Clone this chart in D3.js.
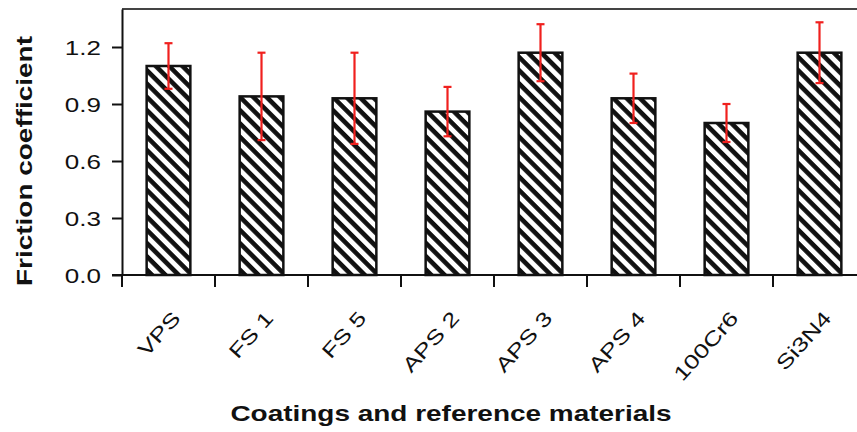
<!DOCTYPE html>
<html>
<head>
<meta charset="utf-8">
<script src="https://cdn.jsdelivr.net/npm/d3@7"></script>
<style>
  html, body { margin: 0; padding: 0; background: #fff; }
  svg { display: block; }
  text { font-family: "Liberation Sans", Arial, Helvetica, sans-serif; fill: #111; }
</style>
</head>
<body>
<svg id="chart" width="857" height="432"></svg>
<script>
// Friction coefficient of coatings and reference materials (mean ± spread)
const categories = ["VPS", "FS 1", "FS 5", "APS 2", "APS 3", "APS 4", "100Cr6", "Si3N4"];
const means      = [1.10, 0.94, 0.93, 0.86, 1.17, 0.93, 0.80, 1.17];
const errors     = [0.12, 0.23, 0.24, 0.13, 0.15, 0.13, 0.10, 0.16];
const yTicks     = [0.0, 0.3, 0.6, 0.9, 1.2];
const yLabel     = "Friction coefficient";
const xLabel     = "Coatings and reference materials";

const svg = d3.select("#chart");
const W = 857, H = 432;
const plot = { left: 122, right: 866, top: 9, bottom: 275 };
const widen = 1.3;   // the lettering is set wide

// stretch each text's glyphs along its baseline
function widenText(sel, factor) {
  sel.each(function () {
    const len = this.getComputedTextLength();
    d3.select(this)
      .attr("textLength", len * factor)
      .attr("lengthAdjust", "spacingAndGlyphs");
  });
}

const x = d3.scaleBand()
  .domain(categories)
  .range([plot.left, plot.right])
  .paddingInner(0.53)
  .paddingOuter(0.265);

const y = d3.scaleLinear()
  .domain([0, 1.4])
  .range([plot.bottom, plot.top]);

const data = categories.map((c, i) => ({ cat: c, mean: means[i], err: errors[i] }));

// diagonal hatch fill for the bars
const defs = svg.append("defs");
const pat = defs.append("pattern")
  .attr("id", "hatch")
  .attr("patternUnits", "userSpaceOnUse")
  .attr("width", 9.4)
  .attr("height", 9.4)
  .attr("patternTransform", "rotate(45)");
pat.append("rect").attr("width", 9.4).attr("height", 9.4).attr("fill", "#fff");
pat.append("rect").attr("x", 0).attr("y", 0).attr("width", 9.4).attr("height", 4.6).attr("fill", "#111");

// frame: top border
svg.append("line")
  .attr("x1", plot.left).attr("x2", plot.right)
  .attr("y1", y(1.4)).attr("y2", y(1.4))
  .attr("stroke", "#444").attr("stroke-width", 2);

// bars
svg.append("g").selectAll("rect")
  .data(data)
  .join("rect")
  .attr("x", d => x(d.cat))
  .attr("y", d => y(d.mean))
  .attr("width", x.bandwidth())
  .attr("height", d => y(0) - y(d.mean))
  .attr("fill", "url(#hatch)")
  .attr("stroke", "#111")
  .attr("stroke-width", 2.5);

// error bars
const capW = 4;
const eb = svg.append("g").attr("stroke", "#f0201e").attr("stroke-width", 2.2);
data.forEach(d => {
  const cx = x(d.cat) + x.bandwidth() / 2;
  eb.append("line").attr("x1", cx).attr("x2", cx).attr("y1", y(d.mean + d.err)).attr("y2", y(d.mean - d.err));
  eb.append("line").attr("x1", cx - capW).attr("x2", cx + capW).attr("y1", y(d.mean + d.err)).attr("y2", y(d.mean + d.err));
  eb.append("line").attr("x1", cx - capW).attr("x2", cx + capW).attr("y1", y(d.mean - d.err)).attr("y2", y(d.mean - d.err));
});

// y axis
const yAxis = svg.append("g")
  .attr("transform", `translate(${plot.left},0)`)
  .call(d3.axisLeft(y).tickValues(yTicks).tickFormat(d3.format(".1f")).tickSize(10).tickSizeOuter(0));
yAxis.select(".domain").attr("stroke", "#111").attr("stroke-width", 2);
yAxis.selectAll(".tick line").attr("stroke", "#111").attr("stroke-width", 2);
yAxis.selectAll(".tick text")
  .attr("font-size", 20)
  .attr("x", -21).attr("dy", "0.36em")
  .attr("fill", "#111")
  .call(widenText, widen);

// x axis: baseline, boundary ticks, rotated category labels
const step = x.step();
const boundaries = d3.range(categories.length + 1).map(i => x(categories[0]) - x.paddingInner() * step / 2 + i * step);
svg.append("line")
  .attr("x1", plot.left - 10).attr("x2", W + 10)
  .attr("y1", y(0)).attr("y2", y(0))
  .attr("stroke", "#111").attr("stroke-width", 2);
svg.append("g").selectAll("line")
  .data(boundaries)
  .join("line")
  .attr("x1", d => d).attr("x2", d => d)
  .attr("y1", y(0)).attr("y2", y(0) + 12)
  .attr("stroke", "#111").attr("stroke-width", 2);

const xAxis = svg.append("g")
  .attr("transform", `translate(0,${plot.bottom})`)
  .call(d3.axisBottom(x).tickSize(0));
xAxis.select(".domain").remove();
xAxis.selectAll(".tick text")
  .attr("font-size", 20)
  .attr("fill", "#111")
  .attr("text-anchor", "end")
  .attr("x", 0).attr("y", 0).attr("dy", 0)
  .attr("transform", "translate(13,44) rotate(-48)")
  .call(widenText, widen);

// axis titles
svg.append("text")
  .attr("x", 451).attr("y", 421)
  .attr("text-anchor", "middle")
  .attr("font-size", 21.5)
  .attr("font-weight", "bold")
  .text(xLabel)
  .call(widenText, widen);

svg.append("text")
  .attr("transform", "translate(32,161) rotate(-90)")
  .attr("text-anchor", "middle")
  .attr("font-size", 22)
  .attr("font-weight", "bold")
  .text(yLabel)
  .call(widenText, 1.27);
</script>
</body>
</html>
